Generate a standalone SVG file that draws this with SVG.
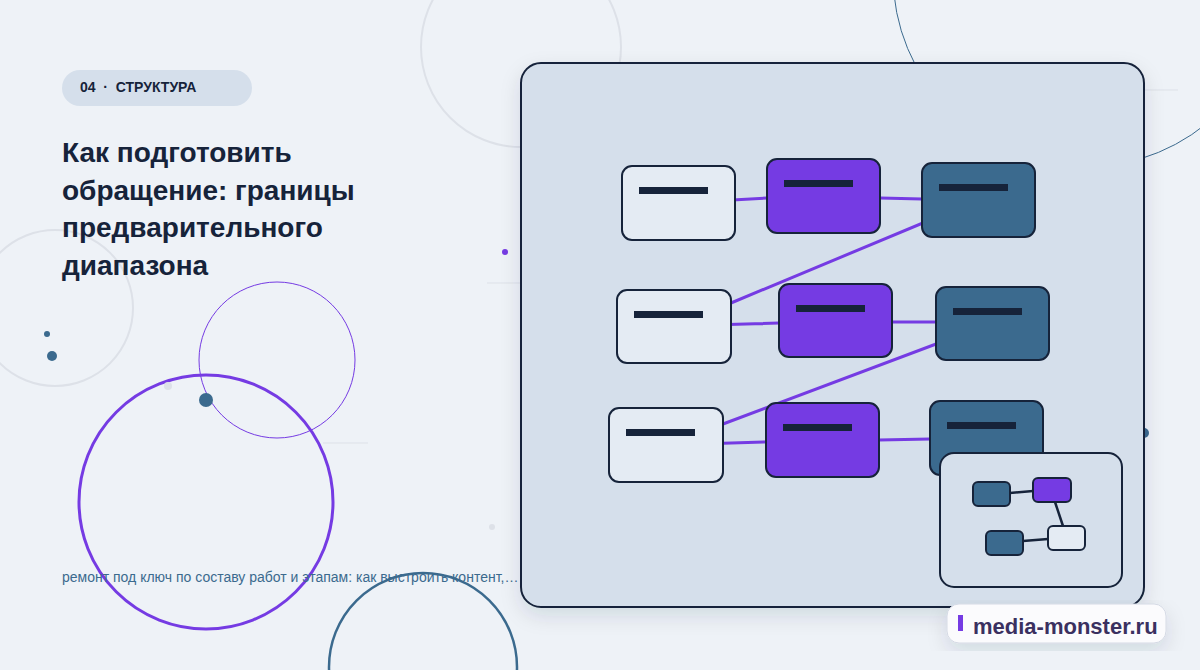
<svg xmlns="http://www.w3.org/2000/svg" width="1200" height="670" viewBox="0 0 1200 670">
<defs>
<style>
.t{font-family:"Liberation Sans",Arial,sans-serif}
.w{fill:#e4ebf3;stroke:#16233a;stroke-width:2}
.p{fill:#753be3;stroke:#16233a;stroke-width:2}
.s{fill:#3b6a8e;stroke:#16233a;stroke-width:2}
.bar{fill:#16233a}
.c{stroke:#753be3;stroke-width:3;fill:none}
.k{stroke:#16233a;stroke-width:2.5;fill:none}
</style>
<filter id="sh" x="-10%" y="-10%" width="130%" height="130%"><feDropShadow dx="0" dy="8" stdDeviation="10" flood-color="#1a2740" flood-opacity="0.12"/></filter>
</defs>
<rect width="1200" height="670" fill="#eef2f7"/>
<g fill="none">
<circle cx="521" cy="47" r="100" stroke="#dde1e8" stroke-width="2"/>
<circle cx="1085" cy="-25" r="192" stroke="#3b6a8e" stroke-width="1"/>
<circle cx="55" cy="308" r="78" stroke="#dde1e8" stroke-width="2"/>
<circle cx="277" cy="360" r="78" stroke="#753be3" stroke-width="1"/>
<circle cx="206" cy="502" r="127" stroke="#753be3" stroke-width="3"/>
<circle cx="423" cy="667" r="94" stroke="#3b6a8e" stroke-width="2.5"/>
<path d="M487 283H521M323 443H368M1144 90H1178" stroke="#dde1e8" stroke-width="1"/>
</g>
<circle cx="505" cy="252" r="3" fill="#753be3"/>
<circle cx="47" cy="334" r="3" fill="#3b6a8e"/>
<circle cx="52" cy="356" r="5" fill="#3b6a8e"/>
<circle cx="206" cy="400" r="7" fill="#3b6a8e"/>
<circle cx="168" cy="386" r="4" fill="#dde1e8"/>
<circle cx="492" cy="527" r="3" fill="#dde1e8"/>
<circle cx="1144" cy="433" r="5" fill="#3b6a8e"/>
<g id="tag"><rect x="62" y="70" width="190" height="36" rx="18" fill="#d5dfeb"/>
<text x="80" y="92" class="t" font-size="14" font-weight="bold" fill="#16233a" xml:space="preserve">04  ·  СТРУКТУРА</text></g>
<g id="title" class="t" font-size="28" font-weight="bold" fill="#16233a">
<text x="62" y="162">Как подготовить</text>
<text x="62" y="200">обращение: границы</text>
<text x="62" y="237">предварительного</text>
<text x="62" y="275">диапазона</text></g>
<text x="62" y="582" class="t" font-size="14" fill="#3b6a8e">ремонт под ключ по составу работ и этапам: как выстроить контент,…</text>
<rect id="card" x="521" y="63" width="623" height="544" rx="20" fill="#d5dfeb" stroke="#16233a" stroke-width="2" filter="url(#sh)"/>
<g id="connectors">
<path class="c" d="M678 203L767 198M880 198L922 199M978 200L731 303M674 326L779 323M892 322L936 322M992 323L723 424M666 445L766 442M879 440L930 439"/>
</g>
<g id="n1"><rect class="w" x="622" y="166" width="113" height="74" rx="10"/><rect class="bar" x="639" y="187" width="69" height="7"/></g>
<g id="n2"><rect class="p" x="767" y="159" width="113" height="74" rx="10"/><rect class="bar" x="784" y="180" width="69" height="7"/></g>
<g id="n3"><rect class="s" x="922" y="163" width="113" height="74" rx="10"/><rect class="bar" x="939" y="184" width="69" height="7"/></g>
<g id="n4"><rect class="w" x="617" y="290" width="114" height="73" rx="10"/><rect class="bar" x="634" y="311" width="69" height="7"/></g>
<g id="n5"><rect class="p" x="779" y="284" width="113" height="73" rx="10"/><rect class="bar" x="796" y="305" width="69" height="7"/></g>
<g id="n6"><rect class="s" x="936" y="287" width="113" height="73" rx="10"/><rect class="bar" x="953" y="308" width="69" height="7"/></g>
<g id="n7"><rect class="w" x="609" y="408" width="114" height="74" rx="10"/><rect class="bar" x="626" y="429" width="69" height="7"/></g>
<g id="n8"><rect class="p" x="766" y="403" width="113" height="74" rx="10"/><rect class="bar" x="783" y="424" width="69" height="7"/></g>
<g id="n9"><rect class="s" x="930" y="401" width="113" height="74" rx="10"/><rect class="bar" x="947" y="422" width="69" height="7"/></g>
<g id="inset">
<rect x="940" y="453" width="182" height="134" rx="14" fill="#d5dfeb" stroke="#16233a" stroke-width="2"/>
<path class="k" d="M1010 493L1033 491M1055 502L1063 526M1023 541L1048 539"/>
<rect class="s" x="973" y="482" width="37" height="24" rx="5"/>
<rect class="p" x="1033" y="478" width="38" height="24" rx="5"/>
<rect class="s" x="986" y="531" width="37" height="24" rx="5"/>
<rect class="w" x="1048" y="526" width="37" height="24" rx="5"/>
</g>
<g id="badge"><rect x="947" y="604" width="219" height="39" rx="12" fill="#fbfbfd" stroke="#d5dae5" filter="url(#sh)"/>
<rect x="958" y="615" width="5" height="16" fill="#753be3"/>
<text x="973" y="634" class="t" font-size="22" font-weight="bold" fill="#3a3060">media-monster.ru</text></g>
</svg>
